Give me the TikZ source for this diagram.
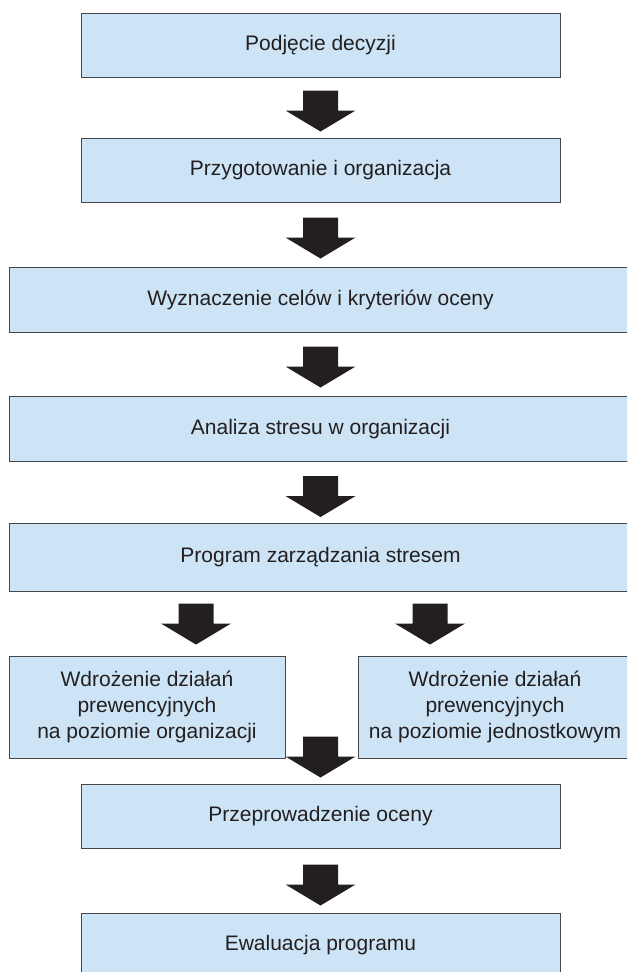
\documentclass[tikz,border=0pt]{standalone}
\usepackage{fontspec}
\setmainfont{Liberation Sans}
\usetikzlibrary{calc}
\definecolor{boxfill}{RGB}{205,228,246}
\definecolor{boxline}{RGB}{70,70,72}
\definecolor{arrowfill}{RGB}{35,31,32}
\begin{document}
\begin{tikzpicture}[x=1pt,y=-1pt,
  box/.style={draw=boxline, line width=1pt, fill=boxfill, text=arrowfill,
    font=\fontsize{21}{26}\selectfont, align=center, inner sep=0pt},
  narrowbox/.style={box, minimum width=479pt, minimum height=64pt},
  widebox/.style={box, minimum width=623pt, minimum height=65pt},
  barrow/.pic={\fill[arrowfill] (-17.5,0) -- (17.5,0) -- (17.5,20) -- (35,20)
      -- (0,41) -- (-35,20) -- (-17.5,20) -- cycle;}]
\useasboundingbox (0,0) rectangle (627,972);
\clip (0,0) rectangle (627,972);
% boxes
\node[narrowbox] (b1) at (320.5,45) {Podjęcie decyzji};
\node[narrowbox] (b2) at (320.5,170) {Przygotowanie i organizacja};
\node[widebox] (b3) at (320.5,299.5) {Wyznaczenie celów i kryteriów oceny};
\node[widebox] (b4) at (320.5,429) {Analiza stresu w organizacji};
\node[widebox, minimum height=68pt] (b5) at (320.5,557) {Program zarządzania stresem};
\node[box, minimum width=276pt, minimum height=102pt] (bl) at (147,707)
  {Wdrożenie działań\\prewencyjnych\\na poziomie organizacji};
\node[box, minimum width=274pt, minimum height=102pt] (br) at (495,707)
  {Wdrożenie działań\\prewencyjnych\\na poziomie jednostkowym};
\node[narrowbox] (b7) at (320.5,816) {Przeprowadzenie oceny};
\node[narrowbox] (b8) at (320.5,945) {Ewaluacja programu};
% block arrows
\pic at ($(b1.south)+(0,13)$) {barrow};
\pic at ($(b2.south)+(0,15)$) {barrow};
\pic at ($(b3.south)+(0,14)$) {barrow};
\pic at ($(b4.south)+(0,14)$) {barrow};
\pic at ($(b5.south)+(-124.5,12)$) {barrow};
\pic at ($(b5.south)+(109.5,12)$) {barrow};
\pic at ($(b7.north)+(0,-47)$) {barrow};
\pic at ($(b7.south)+(0,16)$) {barrow};
\end{tikzpicture}
\end{document}
